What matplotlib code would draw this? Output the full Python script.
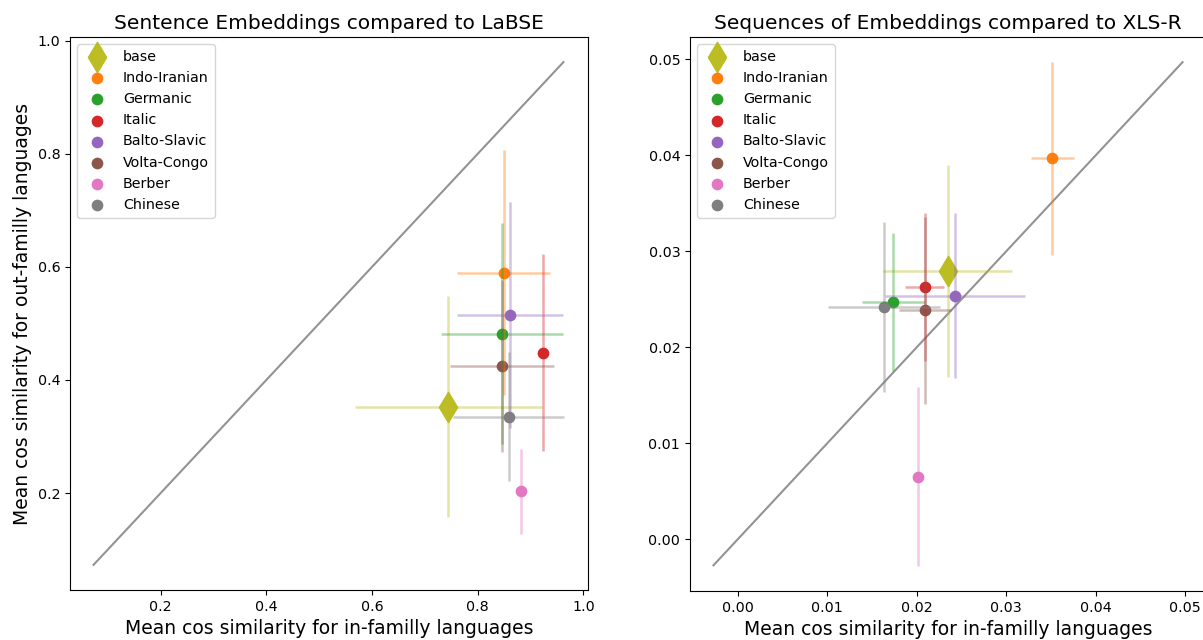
import matplotlib
matplotlib.use("Agg")
import matplotlib.pyplot as plt

families = ["Indo-Iranian", "Germanic", "Italic", "Balto-Slavic",
            "Volta-Congo", "Berber", "Chinese"]
family_colors = ["tab:orange", "tab:green", "tab:red", "tab:purple",
                 "tab:brown", "tab:pink", "tab:gray"]

# Sentence embeddings vs LaBSE
labse_base = [0.7445, 0.353, 0.177, 0.195]   # x, y, xerr, yerr
labse_x = [0.849, 0.846, 0.923, 0.861, 0.846, 0.881, 0.859]
labse_y = [0.590, 0.482, 0.448, 0.515, 0.425, 0.203, 0.335]
labse_xerr = [0.088, 0.115, 0.004, 0.100, 0.098, 0.004, 0.105]
labse_yerr = [0.216, 0.196, 0.174, 0.200, 0.152, 0.075, 0.114]
labse_diag = [0.073, 0.962]

# Sequences of embeddings vs XLS-R
xlsr_base = [0.02347, 0.02796, 0.0072, 0.0110]
xlsr_x = [0.03517, 0.01739, 0.0209, 0.02429, 0.02094, 0.0202, 0.01635]
xlsr_y = [0.03967, 0.02475, 0.0263, 0.02537, 0.02385, 0.00655, 0.0242]
xlsr_xerr = [0.0024, 0.0035, 0.0022, 0.0078, 0.0029, 0.0002, 0.0063]
xlsr_yerr = [0.0100, 0.0072, 0.0077, 0.0086, 0.0097, 0.0093, 0.0089]
xlsr_diag = [-0.0027, 0.0497]


def draw_panel(ax, base, xs, ys, xerr, yerr, diag, title):
    ax.plot(diag, diag, color="grey", lw=1.5, alpha=0.85)
    ax.errorbar(base[0], base[1], xerr=base[2], yerr=base[3], fmt="none",
                ecolor="tab:olive", alpha=0.4, elinewidth=1.8)
    ax.scatter(base[0], base[1], marker="d", s=240, color="tab:olive", label="base")
    for i, fam in enumerate(families):
        ax.errorbar(xs[i], ys[i], xerr=xerr[i], yerr=yerr[i], fmt="none",
                    ecolor=family_colors[i], alpha=0.4, elinewidth=1.8)
        ax.scatter(xs[i], ys[i], s=55, color=family_colors[i], label=fam)
    ax.set_title(title, fontsize=14.5)
    ax.set_xlabel("Mean cos similarity for in-familly languages", fontsize=13.5)
    ax.tick_params(labelsize=10.3)
    ax.legend(loc="upper left", fontsize=10.3)


fig = plt.figure(figsize=(12.03, 6.4), dpi=100)
ax1 = fig.add_axes([70 / 1203, 50 / 640, 518 / 1203, 553 / 640])
ax2 = fig.add_axes([690 / 1203, 49 / 640, 516 / 1203, 554 / 640])

draw_panel(ax1, labse_base, labse_x, labse_y, labse_xerr, labse_yerr,
           labse_diag, "Sentence Embeddings compared to LaBSE")
ax1.set_ylabel("Mean cos similarity for out-familly languages", fontsize=13.5)
draw_panel(ax2, xlsr_base, xlsr_x, xlsr_y, xlsr_xerr, xlsr_yerr,
           xlsr_diag, "Sequences of Embeddings compared to XLS-R")

fig.savefig("out.png", dpi=100)
